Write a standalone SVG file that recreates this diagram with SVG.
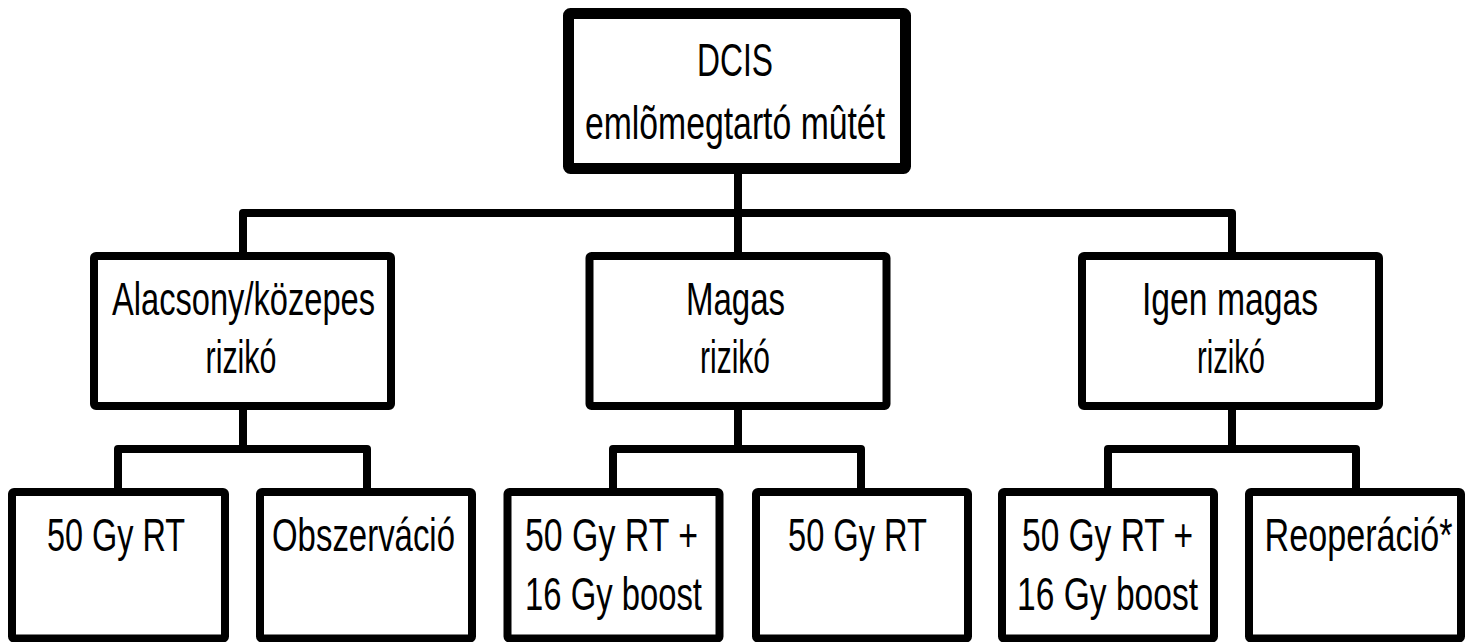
<svg xmlns="http://www.w3.org/2000/svg" width="1474" height="642" viewBox="0 0 1474 642">
<style>
.box{fill:#fff;stroke:#000;stroke-width:8;stroke-linejoin:round}
.top{stroke-width:11}
.con{fill:none;stroke:#000;stroke-width:8;stroke-linejoin:round;stroke-linecap:butt}
text{font-family:"Liberation Sans",Arial,sans-serif;font-size:47px;fill:#000;text-anchor:middle}
</style>
<rect width="1474" height="642" fill="#fff"/>
<g id="connectors" class="con">
<polyline points="738,174 738,252"/>
<polyline points="243,252 243,213 1232,213 1232,252"/>
<polyline points="243,410 243,449"/>
<polyline points="118,488 118,449 367,449 367,488"/>
<polyline points="738,410 738,449"/>
<polyline points="613,488 613,449 861,449 861,488"/>
<polyline points="1232,410 1232,449"/>
<polyline points="1108,488 1108,449 1356,449 1356,488"/>
</g>
<g id="root">
<rect class="box top" x="568.5" y="13.5" width="337" height="155" rx="2"/>
<text x="735" y="76" textLength="76" lengthAdjust="spacingAndGlyphs">DCIS</text>
<text x="735" y="139" textLength="300" lengthAdjust="spacingAndGlyphs">emlõmegtartó mûtét</text>
</g>
<g id="low-risk">
<rect class="box" x="94" y="256" width="297" height="150" rx="2"/>
<text x="243.5" y="315" textLength="263" lengthAdjust="spacingAndGlyphs">Alacsony/közepes</text>
<text x="241" y="373" textLength="71" lengthAdjust="spacingAndGlyphs">rizikó</text>
</g>
<g id="high-risk">
<rect class="box" x="589.5" y="256" width="297" height="150" rx="2"/>
<text x="735.5" y="315" textLength="99" lengthAdjust="spacingAndGlyphs">Magas</text>
<text x="735" y="373" textLength="70" lengthAdjust="spacingAndGlyphs">rizikó</text>
</g>
<g id="very-high-risk">
<rect class="box" x="1082" y="256" width="297" height="150" rx="2"/>
<text x="1230" y="315" textLength="176" lengthAdjust="spacingAndGlyphs">Igen magas</text>
<text x="1231" y="373" textLength="68" lengthAdjust="spacingAndGlyphs">rizikó</text>
</g>
<g id="low-rt">
<rect class="box" x="12" y="492" width="213" height="146.5" rx="2"/>
<text x="116" y="551" textLength="138" lengthAdjust="spacingAndGlyphs">50 Gy RT</text>
</g>
<g id="low-obs">
<rect class="box" x="260" y="492" width="212" height="146.5" rx="2"/>
<text x="363.5" y="551" textLength="183" lengthAdjust="spacingAndGlyphs">Obszerváció</text>
</g>
<g id="high-boost">
<rect class="box" x="507.5" y="492" width="212" height="146.5" rx="2"/>
<text x="611.5" y="551" textLength="173" lengthAdjust="spacingAndGlyphs">50 Gy RT +</text>
<text x="613.5" y="610" textLength="177" lengthAdjust="spacingAndGlyphs">16 Gy boost</text>
</g>
<g id="high-rt">
<rect class="box" x="756" y="492" width="212" height="146.5" rx="2"/>
<text x="857.5" y="551" textLength="139" lengthAdjust="spacingAndGlyphs">50 Gy RT</text>
</g>
<g id="vhigh-boost">
<rect class="box" x="1002" y="492" width="212" height="146.5" rx="2"/>
<text x="1107.5" y="551" textLength="171" lengthAdjust="spacingAndGlyphs">50 Gy RT +</text>
<text x="1107.5" y="610" textLength="181" lengthAdjust="spacingAndGlyphs">16 Gy boost</text>
</g>
<g id="vhigh-reop">
<rect class="box" x="1249" y="492" width="212" height="146.5" rx="2"/>
<text x="1358.5" y="551" textLength="188" lengthAdjust="spacingAndGlyphs">Reoperáció*</text>
</g>
</svg>
